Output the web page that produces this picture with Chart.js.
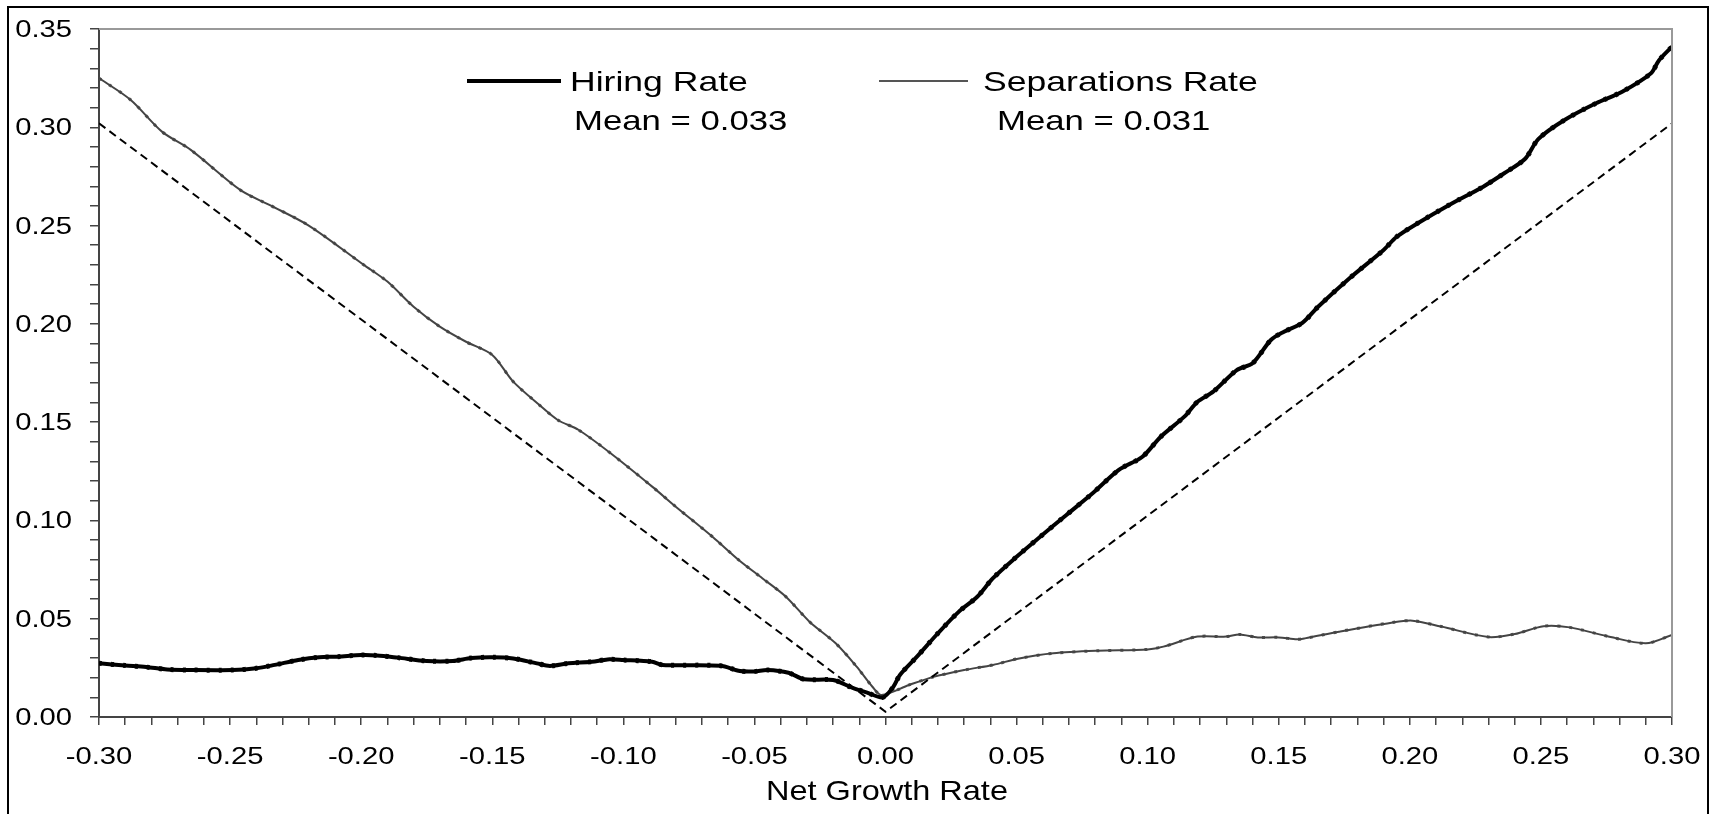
<!DOCTYPE html>
<html>
<head>
<meta charset="utf-8">
<script src="https://cdn.jsdelivr.net/npm/chart.js@4.4.1/dist/chart.umd.min.js"></script>
<style>
  html, body { margin: 0; padding: 0; background: #fff; }
</style>
</head>
<body>
<canvas id="myChart" width="1717" height="814"></canvas>
<script>
// Data
const hiringX = [-0.300, -0.290, -0.282, -0.274, -0.265, -0.249, -0.240, -0.233, -0.224, -0.216,
  -0.209, -0.200, -0.194, -0.186, -0.175, -0.165, -0.158, -0.150, -0.142, -0.133,
  -0.128, -0.121, -0.112, -0.106, -0.100, -0.089, -0.085, -0.063, -0.0555, -0.050,
  -0.045, -0.037, -0.031, -0.020, -0.013, -0.007, -0.001, 0.003, 0.0055, 0.012,
  0.020, 0.028, 0.035, 0.041, 0.050, 0.059, 0.069, 0.079, 0.089, 0.098,
  0.105, 0.114, 0.119, 0.125, 0.134, 0.140, 0.147, 0.152, 0.159, 0.165,
  0.177, 0.190, 0.195, 0.203, 0.215, 0.228, 0.236, 0.244, 0.249, 0.259,
  0.271, 0.281, 0.292, 0.295, 0.300];
const hiringRate = [0.0273, 0.0262, 0.0254, 0.0242, 0.0239, 0.0239, 0.0248, 0.0265, 0.0290, 0.0304,
  0.0307, 0.0315, 0.0313, 0.0302, 0.0285, 0.0285, 0.0300, 0.0304, 0.0298, 0.0273,
  0.0260, 0.0273, 0.0281, 0.0293, 0.0290, 0.0281, 0.0265, 0.0261, 0.0234, 0.0232,
  0.0239, 0.0225, 0.0192, 0.0188, 0.0151, 0.0124, 0.0100, 0.0154, 0.0214, 0.0307,
  0.0426, 0.0536, 0.0612, 0.0706, 0.0815, 0.0917, 0.1028, 0.1138, 0.1257, 0.1324,
  0.1426, 0.1528, 0.1604, 0.1655, 0.1765, 0.1799, 0.1918, 0.1960, 0.2005, 0.2087,
  0.2232, 0.2376, 0.2443, 0.2512, 0.2605, 0.2698, 0.2766, 0.2840, 0.2940, 0.3037,
  0.3122, 0.3181, 0.3275, 0.3340, 0.3410];

const sepX = [-0.300, -0.288, -0.276, -0.265, -0.246, -0.235, -0.220, -0.199, -0.190, -0.180,
  -0.170, -0.160, -0.150, -0.142, -0.132, -0.125, -0.117, -0.104, -0.089, -0.080,
  -0.066, -0.056, -0.047, -0.038, -0.029, -0.019, -0.011, -0.005, -0.0015, 0.009,
  0.018, 0.030, 0.041, 0.051, 0.064, 0.081, 0.100, 0.106, 0.119, 0.130,
  0.135, 0.142, 0.150, 0.157, 0.160, 0.173, 0.193, 0.201, 0.212, 0.230,
  0.240, 0.251, 0.261, 0.275, 0.290, 0.300];
const sepRate = [0.3250, 0.3140, 0.2978, 0.2885, 0.2680, 0.2605, 0.2500, 0.2300, 0.2215, 0.2087,
  0.1986, 0.1909, 0.1842, 0.1706, 0.1587, 0.1511, 0.1460, 0.1333, 0.1172, 0.1070,
  0.0917, 0.0799, 0.0706, 0.0612, 0.0485, 0.0375, 0.0256, 0.0154, 0.0112, 0.0163,
  0.0203, 0.0239, 0.0265, 0.0298, 0.0324, 0.0337, 0.0344, 0.0358, 0.0409, 0.0409,
  0.0420, 0.0405, 0.0405, 0.0395, 0.0400, 0.0434, 0.0480, 0.0490, 0.0460, 0.0407,
  0.0422, 0.0462, 0.0456, 0.0412, 0.0375, 0.0417];

// 45-degree reference line
const refX = [-0.30, 0.00, 0.30];
const refY = [0.302, 0.0027, 0.302];

const legendNames = ['Hiring Rate', 'Separations Rate'];
const legendMeans = ['Mean = 0.033', 'Mean = 0.031'];
const axisTitle = 'Net Growth Rate';

function toPoints(xs, ys) {
    return xs.map((x, i) => ({ x: x, y: ys[i] }));
}

// multiples of 0.05 get a label
function isMajor(v) {
    const r = v / 0.05;
    return Math.abs(r - Math.round(r)) < 1e-6;
}

// the picture's text is stretched sideways, so draw it scaled
function stretchText(ctx, txt, x, y, align, sx) {
    ctx.save();
    ctx.translate(x, y);
    ctx.scale(sx, 1);
    ctx.textAlign = align;
    ctx.textBaseline = 'alphabetic';
    ctx.fillText(txt, 0, 0);
    ctx.restore();
}

// Frame, tick labels, legend and axis title
const decorPlugin = {
    id: 'decor',
    afterDraw(chart) {
        const ctx = chart.ctx;
        const a = chart.chartArea;
        const xs = chart.scales.x;
        const ys = chart.scales.y;
        ctx.save();

        // outer border (bottom edge falls off the canvas)
        ctx.strokeStyle = '#000';
        ctx.lineWidth = 2;
        ctx.strokeRect(8, 7, 1700, 820);

        // top and right edge of plot
        ctx.strokeStyle = '#999';
        ctx.lineWidth = 2;
        ctx.beginPath();
        ctx.moveTo(a.left, a.top);
        ctx.lineTo(a.right, a.top);
        ctx.lineTo(a.right, a.bottom);
        ctx.stroke();

        // tick labels
        ctx.fillStyle = '#000';
        ctx.font = '23px "Liberation Sans", Arial, sans-serif';
        ys.ticks.forEach(t => {
            if (!isMajor(t.value)) return;
            const py = ys.getPixelForValue(t.value);
            stretchText(ctx, Math.abs(t.value).toFixed(2), 72, py + 8, 'right', 1.27);
        });
        xs.ticks.forEach(t => {
            if (!isMajor(t.value)) return;
            const px = xs.getPixelForValue(t.value);
            let lbl = t.value.toFixed(2);
            if (lbl === '-0.00') lbl = '0.00';
            stretchText(ctx, lbl, px, 764, 'center', 1.27);
        });

        // axis title
        ctx.font = '28px "Liberation Sans", Arial, sans-serif';
        stretchText(ctx, axisTitle, 887, 800, 'center', 1.16);

        // legend
        ctx.lineCap = 'butt';
        ctx.strokeStyle = '#000';
        ctx.lineWidth = 4;
        ctx.beginPath();
        ctx.moveTo(467, 81);
        ctx.lineTo(561, 81);
        ctx.stroke();
        ctx.strokeStyle = '#555';
        ctx.lineWidth = 2;
        ctx.beginPath();
        ctx.moveTo(879, 81);
        ctx.lineTo(968, 81);
        ctx.stroke();

        ctx.font = '28px "Liberation Sans", Arial, sans-serif';
        stretchText(ctx, legendNames[0], 570, 91, 'left', 1.27);
        stretchText(ctx, legendMeans[0], 574, 130, 'left', 1.24);
        stretchText(ctx, legendNames[1], 983, 91, 'left', 1.27);
        stretchText(ctx, legendMeans[1], 997, 130, 'left', 1.24);

        ctx.restore();
    }
};

const ctx = document.getElementById('myChart');

new Chart(ctx, {
    type: 'scatter',
    data: {
        datasets: [
            {
                // fitted (dotted) separations
                data: toPoints(sepX, sepRate),
                showLine: true,
                borderColor: '#555',
                borderWidth: 3,
                borderDash: [3, 9],
                pointRadius: 0,
                tension: 0.3,
                order: 5
            },
            {
                // fitted (dotted) hiring
                data: toPoints(hiringX, hiringRate),
                showLine: true,
                borderColor: '#111',
                borderWidth: 5,
                borderDash: [3, 9],
                pointRadius: 0,
                tension: 0.3,
                order: 4
            },
            {
                label: legendNames[1],
                data: toPoints(sepX, sepRate),
                showLine: true,
                borderColor: '#444',
                borderWidth: 2,
                pointRadius: 0,
                tension: 0.3,
                order: 3
            },
            {
                label: legendNames[0],
                data: toPoints(hiringX, hiringRate),
                showLine: true,
                borderColor: '#000',
                borderWidth: 4,
                pointRadius: 0,
                tension: 0.3,
                order: 2
            },
            {
                data: toPoints(refX, refY),
                showLine: true,
                borderColor: '#000',
                borderWidth: 2,
                borderDash: [8, 5],
                pointRadius: 0,
                tension: 0,
                order: 1
            }
        ]
    },
    options: {
        responsive: false,
        animation: false,
        devicePixelRatio: 1,
        layout: {
            padding: { left: 0, top: 29, right: 45, bottom: 0 }
        },
        plugins: {
            legend: { display: false },
            tooltip: { enabled: false }
        },
        scales: {
            x: {
                type: 'linear',
                min: -0.30,
                max: 0.30,
                ticks: { stepSize: 0.01, display: false },
                grid: {
                    drawOnChartArea: false,
                    drawTicks: true,
                    tickLength: 8,
                    color: '#444',
                    lineWidth: 1.5
                },
                border: { display: true, color: '#444', width: 2 },
                afterFit: (scale) => { scale.height = 97; }
            },
            y: {
                type: 'linear',
                min: 0,
                max: 0.35,
                ticks: { stepSize: 0.01, display: false },
                grid: {
                    drawOnChartArea: false,
                    drawTicks: true,
                    tickLength: 9,
                    color: '#444',
                    lineWidth: 1.5
                },
                border: { display: true, color: '#444', width: 2 },
                afterFit: (scale) => { scale.width = 99; }
            }
        }
    },
    plugins: [decorPlugin]
});
</script>
</body>
</html>
